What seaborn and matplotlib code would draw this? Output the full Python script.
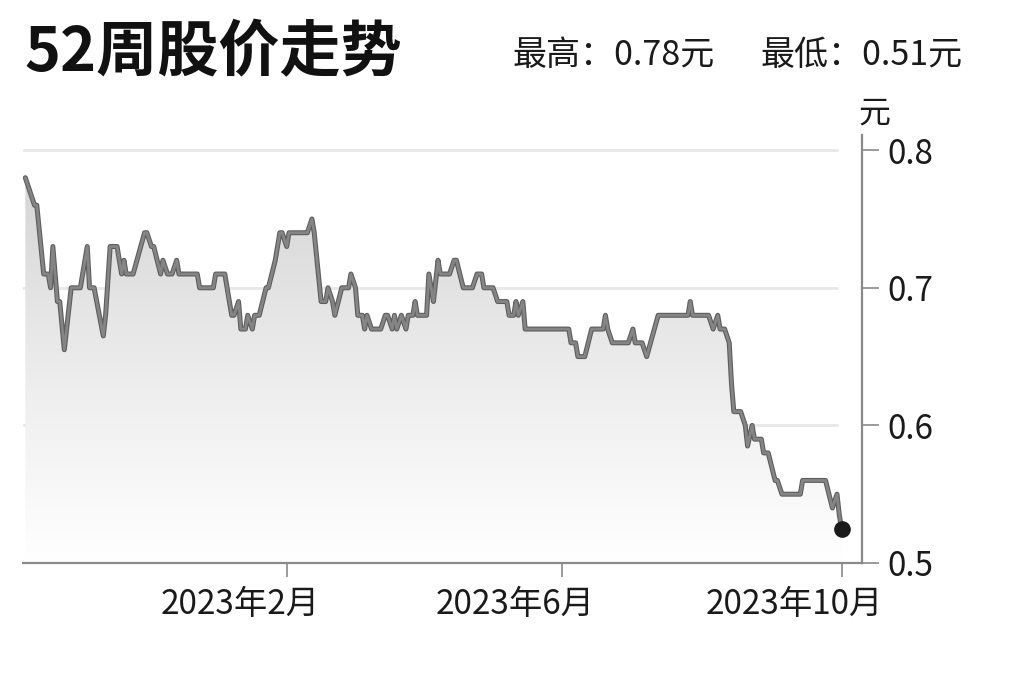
import numpy as np
import pandas as pd
import matplotlib
matplotlib.use("Agg")
import matplotlib.pyplot as plt
import matplotlib.dates as mdates
import matplotlib.patheffects as pe
from matplotlib.transforms import ScaledTranslation
import seaborn as sns

# ---- data ----
dates = [
    "2022-10-10", "2022-10-14", "2022-10-15", "2022-10-18", "2022-10-20", "2022-10-21",
    "2022-10-22", "2022-10-24", "2022-10-25", "2022-10-27", "2022-10-30", "2022-11-03",
    "2022-11-04", "2022-11-06", "2022-11-07", "2022-11-09", "2022-11-13", "2022-11-14",
    "2022-11-16", "2022-11-19", "2022-11-21", "2022-11-22", "2022-11-23", "2022-11-26",
    "2022-12-01", "2022-12-02", "2022-12-04", "2022-12-05", "2022-12-08", "2022-12-09",
    "2022-12-11", "2022-12-13", "2022-12-15", "2022-12-16", "2022-12-24", "2022-12-25",
    "2022-12-31", "2023-01-01", "2023-01-05", "2023-01-08", "2023-01-09", "2023-01-11",
    "2023-01-12", "2023-01-14", "2023-01-15", "2023-01-17", "2023-01-18", "2023-01-20",
    "2023-01-23", "2023-01-24", "2023-01-27", "2023-01-29", "2023-01-30", "2023-02-01",
    "2023-02-02", "2023-02-10", "2023-02-12", "2023-02-13", "2023-02-16", "2023-02-18",
    "2023-02-19", "2023-02-21", "2023-02-22", "2023-02-25", "2023-02-28", "2023-03-01",
    "2023-03-03", "2023-03-04", "2023-03-06", "2023-03-07", "2023-03-08", "2023-03-10",
    "2023-03-14", "2023-03-16", "2023-03-17", "2023-03-19", "2023-03-20", "2023-03-21",
    "2023-03-23", "2023-03-25", "2023-03-26", "2023-03-28", "2023-03-29", "2023-03-30",
    "2023-04-03", "2023-04-04", "2023-04-06", "2023-04-08", "2023-04-09", "2023-04-13",
    "2023-04-15", "2023-04-16", "2023-04-19", "2023-04-23", "2023-04-25", "2023-04-27",
    "2023-04-28", "2023-05-02", "2023-05-04", "2023-05-08", "2023-05-09", "2023-05-11",
    "2023-05-12", "2023-05-13", "2023-05-15", "2023-05-16", "2023-06-04", "2023-06-05",
    "2023-06-07", "2023-06-08", "2023-06-11", "2023-06-14", "2023-06-19", "2023-06-20",
    "2023-06-21", "2023-06-23", "2023-06-30", "2023-07-02", "2023-07-03", "2023-07-06",
    "2023-07-08", "2023-07-13", "2023-07-26", "2023-07-27", "2023-07-28", "2023-08-04",
    "2023-08-06", "2023-08-08", "2023-08-09", "2023-08-11", "2023-08-13", "2023-08-14",
    "2023-08-15", "2023-08-18", "2023-08-20", "2023-08-21", "2023-08-23", "2023-08-24",
    "2023-08-27", "2023-08-28", "2023-08-30", "2023-09-02", "2023-09-03", "2023-09-05",
    "2023-09-13", "2023-09-14", "2023-09-24", "2023-09-27", "2023-09-29", "2023-09-30",
    "2023-10-01",
]
prices = [
    0.78, 0.76, 0.76, 0.71, 0.71, 0.70,
    0.73, 0.69, 0.69, 0.655, 0.70, 0.70,
    0.71, 0.73, 0.70, 0.70, 0.665, 0.68,
    0.73, 0.73, 0.71, 0.72, 0.71, 0.71,
    0.74, 0.74, 0.73, 0.73, 0.71, 0.72,
    0.71, 0.71, 0.72, 0.71, 0.71, 0.70,
    0.70, 0.71, 0.71, 0.68, 0.68, 0.69,
    0.67, 0.67, 0.68, 0.67, 0.68, 0.68,
    0.70, 0.70, 0.72, 0.74, 0.74, 0.73,
    0.74, 0.74, 0.75, 0.74, 0.69, 0.69,
    0.70, 0.69, 0.68, 0.70, 0.70, 0.71,
    0.70, 0.68, 0.68, 0.67, 0.68, 0.67,
    0.67, 0.68, 0.68, 0.67, 0.68, 0.67,
    0.68, 0.67, 0.68, 0.68, 0.69, 0.68,
    0.68, 0.71, 0.69, 0.72, 0.71, 0.71,
    0.72, 0.72, 0.70, 0.70, 0.71, 0.71,
    0.70, 0.70, 0.69, 0.69, 0.68, 0.68,
    0.69, 0.68, 0.69, 0.67, 0.67, 0.66,
    0.66, 0.65, 0.65, 0.67, 0.67, 0.68,
    0.67, 0.66, 0.66, 0.67, 0.66, 0.66,
    0.65, 0.68, 0.68, 0.69, 0.68, 0.68,
    0.67, 0.68, 0.67, 0.67, 0.66, 0.63,
    0.61, 0.61, 0.60, 0.585, 0.60, 0.59,
    0.59, 0.58, 0.58, 0.56, 0.56, 0.55,
    0.55, 0.56, 0.56, 0.54, 0.55, 0.535,
    0.525,
]
tick_dates = ["2023-02-01", "2023-06-01", "2023-10-01"]
tick_labels = ["2023年2月", "2023年6月", "2023年10月"]
y_ticks = [0.5, 0.6, 0.7, 0.8]
title = "52周股价走势"
high_text = "最高：0.78元"
low_text = "最低：0.51元"
unit = "元"

df = pd.DataFrame({"date": pd.to_datetime(dates), "price": prices})

sns.set_style("white")
plt.rcParams["font.family"] = ["Noto Sans CJK SC", "DejaVu Sans"]

fig = plt.figure(figsize=(10.24, 6.82), dpi=100)
ax = fig.add_axes([0.0225, 0.1745, 0.8195, 0.6275])

x0 = pd.Timestamp("2022-10-09")
x1 = pd.Timestamp("2023-10-10")

# grid lines (stop short of the axis)
for yv in y_ticks[1:]:
    ax.axhline(yv, xmin=0, xmax=0.97, color="#e8e8e8", lw=2, zorder=0)

# gradient fill under the line
poly = ax.fill_between(df["date"], df["price"], 0.5, facecolor="none", edgecolor="none")
grad = np.linspace(0.0, 1.0, 256).reshape(-1, 1)
grad = np.clip(0.81 + 0.19 * grad ** 0.8, 0, 1)
im = ax.imshow(np.dstack([grad, grad, grad]), aspect="auto",
               extent=[mdates.date2num(x0), mdates.date2num(x1), 0.5, 0.80],
               origin="upper", zorder=1)
im.set_clip_path(poly.get_paths()[0], transform=ax.transData)
ax.set_xlim(x0, x1)
ax.set_ylim(0.5, 0.811)

sns.lineplot(data=df, x="date", y="price", ax=ax, color="#858585", lw=2.0, zorder=3,
             path_effects=[pe.Stroke(linewidth=3.6, foreground="#5e5e5e"), pe.Normal()])
ax.plot(df["date"].iloc[-1], df["price"].iloc[-1], "o", color="#1a1a1a",
        markersize=11, zorder=4)

# axes styling
for s in ["top", "left"]:
    ax.spines[s].set_visible(False)
for s in ["right", "bottom"]:
    ax.spines[s].set_color("#8a8a8a")
    ax.spines[s].set_linewidth(1.6)

ax.yaxis.tick_right()
ax.set_yticks(y_ticks)
ax.set_yticklabels([f"{v:.1f}" for v in y_ticks], fontsize=24, color="#1a1a1a")
ax.tick_params(axis="y", which="major", direction="out", length=12, width=1.2,
               color="#8a8a8a", pad=6, right=True, left=False)

ax.set_xticks(pd.to_datetime(tick_dates))
ax.set_xticklabels(tick_labels, fontsize=24, color="#1a1a1a")
ax.tick_params(axis="x", which="major", direction="out", length=10, width=1.2,
               color="#8a8a8a", pad=7, bottom=True)
offset = ScaledTranslation(-0.47, 0, fig.dpi_scale_trans)
for lab in ax.get_xticklabels():
    lab.set_transform(lab.get_transform() + offset)

ax.set_xlabel("")
ax.set_ylabel("")

fig.text(24 / 1024, 1 - 53 / 682, title, fontsize=44, fontweight="bold",
         ha="left", va="center", color="#111111")
fig.text(512 / 1024, 1 - 55 / 682, high_text, fontsize=24.5, ha="left", va="center",
         color="#1a1a1a")
fig.text(760 / 1024, 1 - 55 / 682, low_text, fontsize=24.5, ha="left", va="center",
         color="#1a1a1a")
fig.text(874 / 1024, 1 - 114 / 682, unit, fontsize=23, ha="center", va="center",
         color="#1a1a1a")

fig.savefig("out.png", dpi=100, facecolor="white")
